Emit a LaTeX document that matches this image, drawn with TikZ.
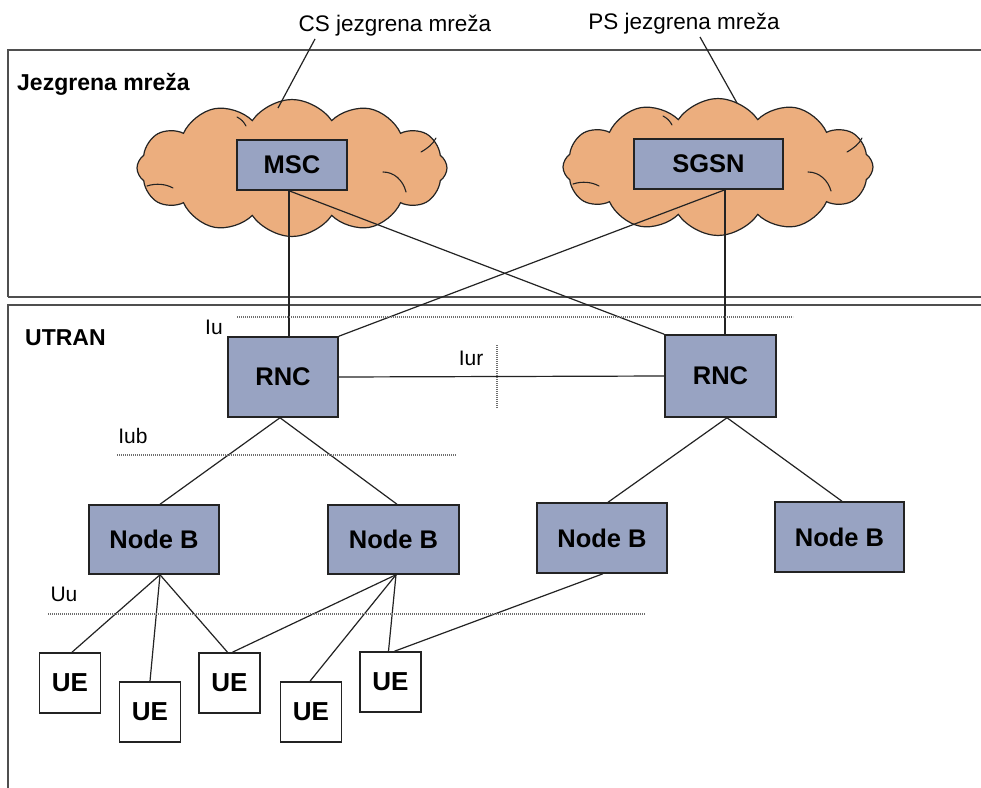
\documentclass[tikz,border=0pt]{standalone}
\usepackage{fontspec}
\setmainfont{Liberation Sans}
\usetikzlibrary{shapes.symbols,calc}
\definecolor{cloudfill}{RGB}{236,174,126}
\definecolor{boxfill}{RGB}{152,163,194}
\definecolor{edge}{RGB}{35,35,35}
\definecolor{ifgray}{RGB}{110,110,110}
\begin{document}
\begin{tikzpicture}[x=1pt,y=-1pt,
  area/.style={draw=edge!80, line width=1.2pt},
  netcloud/.style={cloud, cloud puffs=12, cloud puff arc=112, draw=edge, line width=1.2pt,
    fill=cloudfill, minimum width=310pt, minimum height=137pt, inner sep=0pt},
  curl/.style={draw=edge, line width=1.1pt, line cap=round},
  netbox/.style={draw=edge, line width=1.5pt, fill=boxfill, inner sep=0pt,
    font=\bfseries\fontsize{25.5}{25.5}\selectfont},
  uebox/.style={draw=edge, line width=1.6pt, fill=white, inner sep=0pt,
    minimum width=61pt, minimum height=60pt, font=\bfseries\fontsize{26}{26}\selectfont},
  link/.style={draw=edge, line width=1.2pt},
  iface/.style={draw=ifgray, line width=2pt, dash pattern=on 1.2pt off 0.8pt},
  iflabel/.style={font=\fontsize{21}{21}\selectfont, inner sep=0pt},
  heading/.style={font=\bfseries\fontsize{23}{23}\selectfont, inner sep=0pt, anchor=west},
  caption/.style={font=\fontsize{22.5}{22.5}\selectfont, inner sep=0pt, anchor=base}]

% page
\fill[white] (0,0) rectangle (981,787);
\useasboundingbox (0,0) rectangle (981,787);

% the two domains
\draw[area] (8,297) -- (8,50) -- (995,50);
\draw[area] (8,297) -- (995,297);
\draw[area] (8,800) -- (8,305) -- (995,305);
\node[heading] (core) at (17,84) {Jezgrena mreža};
\node[heading] (utran) at (25,338) {UTRAN};

% core network clouds
\node[netcloud] (cscloud) at (292,168) {};
\node[netcloud] (pscloud) at (718,167) {};
\draw[curl] (147,186) .. controls (156,183) and (166,184) .. (173,188);
\draw[curl] (383,172) .. controls (394,172) and (403,180) .. (406,192);
\draw[curl] (237,117) .. controls (241,119) and (244,122) .. (246,126);
\draw[curl] (421,152) .. controls (428,148) and (433,144) .. (436,138);
\draw[curl] (573,184) .. controls (582,181) and (592,182) .. (599,186);
\draw[curl] (808,172) .. controls (819,172) and (828,180) .. (831,191);
\draw[curl] (663,116) .. controls (667,118) and (670,121) .. (672,125);
\draw[curl] (847,152) .. controls (854,148) and (859,144) .. (862,138);
\node[caption] (cslabel) at (395,31) {CS jezgrena mreža};
\node[caption] (pslabel) at (684,29) {PS jezgrena mreža};
\coordinate (csfoot) at (315,39);
\coordinate (cstip) at (278,108);
\coordinate (psfoot) at (700,37);
\coordinate (pstip) at (737,103);
\draw[link] (csfoot) -- (cstip);
\draw[link] (psfoot) -- (pstip);

% core nodes
\node[netbox, minimum width=110pt, minimum height=50pt] (msc) at (292,165) {MSC};
\node[netbox, minimum width=149pt, minimum height=50pt] (sgsn) at (708.5,164) {SGSN};

% radio network controllers
\node[netbox, minimum width=110pt, minimum height=80pt] (rnc1) at (283,377) {RNC};
\node[netbox, minimum width=111pt, minimum height=82pt] (rnc2) at (720.5,376) {RNC};

% base stations
\node[netbox, minimum width=130pt, minimum height=69pt] (nb1) at (154,539.5) {Node B};
\node[netbox, minimum width=131pt, minimum height=69pt] (nb2) at (393.5,539.5) {Node B};
\node[netbox, minimum width=130pt, minimum height=70pt] (nb3) at (602,538) {Node B};
\node[netbox, minimum width=129pt, minimum height=70pt] (nb4) at (839.5,537) {Node B};

% user equipment
\node[uebox] (ue1) at (70,683) {UE};
\node[uebox] (ue2) at (150,712) {UE};
\node[uebox] (ue3) at (229.5,683) {UE};
\node[uebox] (ue4) at (311,712) {UE};
\node[uebox] (ue5) at (390.5,682) {UE};

% Iu
\coordinate (mscport) at ($(msc.south)+(-3,0)$);
\coordinate (sgsnport) at ($(sgsn.south)+(16.5,0)$);
\draw[link] (mscport) -- (mscport |- rnc1.north);
\draw[link] (mscport) -- (rnc2.north west);
\draw[link] (sgsnport) -- (rnc1.north east);
\draw[link] (sgsnport) -- (sgsnport |- rnc2.north);
\coordinate (iuA) at (237,317);
\coordinate (iuB) at (793,317);
\draw[iface] (iuA) -- (iuB);
\node[iflabel] (iu) at (214,327) {Iu};

% Iur
\draw[link] (rnc1.east) -- (rnc2.west);
\coordinate (iurA) at (497,345);
\coordinate (iurB) at (497,408);
\draw[iface] (iurA) -- (iurB);
\node[iflabel] (iur) at (471,358) {Iur};

% Iub
\coordinate (rnc1port) at ($(rnc1.south)+(-3,0)$);
\coordinate (rnc2port) at ($(rnc2.south)+(6.5,0)$);
\draw[link] (rnc1port) -- ($(nb1.north)+(6,0)$);
\draw[link] (rnc1port) -- ($(nb2.north)+(3.5,0)$);
\draw[link] (rnc2port) -- ($(nb3.north)+(6,0)$);
\draw[link] (rnc2port) -- ($(nb4.north)+(2.5,0)$);
\coordinate (iubA) at (117,455);
\coordinate (iubB) at (456,455);
\draw[iface] (iubA) -- (iubB);
\node[iflabel] (iub) at (133,436) {Iub};

% Uu
\coordinate (nb1port) at ($(nb1.south)+(6,0)$);
\coordinate (nb2port) at ($(nb2.south)+(2.5,0)$);
\coordinate (nb3port) at ($(nb3.south)+(1,0)$);
\draw[link] (nb1port) -- ($(ue1.north)+(2,0)$);
\draw[link] (nb1port) -- (ue2.north);
\draw[link] (nb1port) -- ($(ue3.north)+(-2,0)$);
\draw[link] (nb2port) -- ($(ue3.north)+(3,0)$);
\draw[link] (nb2port) -- ($(ue4.north)+(-1,0)$);
\draw[link] (nb2port) -- ($(ue5.north)+(-2,0)$);
\draw[link] (nb3port) -- ($(ue5.north)+(4,0)$);
\coordinate (uuA) at (48,614);
\coordinate (uuB) at (645,614);
\draw[iface] (uuA) -- (uuB);
\node[iflabel] (uu) at (64,594) {Uu};
\end{tikzpicture}
\end{document}
